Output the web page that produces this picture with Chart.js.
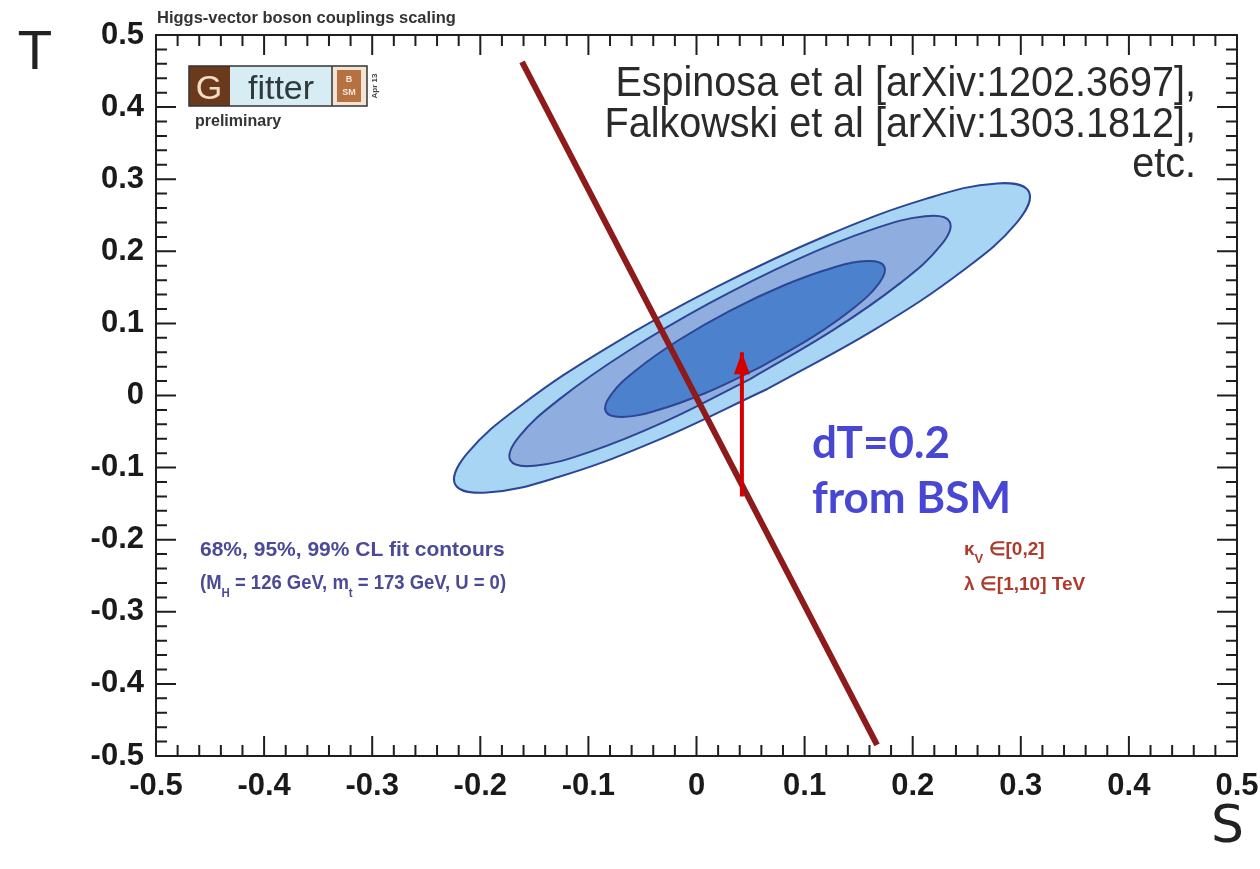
<!DOCTYPE html>
<html>
<head>
<meta charset="utf-8">
<title>Higgs-vector boson couplings scaling</title>
<script src="https://cdn.jsdelivr.net/npm/chart.js@4.4.1/dist/chart.umd.min.js"></script>
<style>
  html, body { margin: 0; padding: 0; background: #fff; }
  #wrap { position: relative; width: 1260px; height: 869px; }
</style>
</head>
<body>
<div id="wrap"><canvas id="stChart"></canvas></div>
<script>
// axis tick labels
const sTickLabels = ['-0.5', '-0.4', '-0.3', '-0.2', '-0.1', '0', '0.1', '0.2', '0.3', '0.4', '0.5'];
const tTickLabels = ['-0.5', '-0.4', '-0.3', '-0.2', '-0.1', '0', '0.1', '0.2', '0.3', '0.4', '0.5'];

// 99% CL contour (S, T), traced from the lower side round the tips
const cl99S = [0.0660, -0.0374, -0.1286, -0.1939, -0.2233, -0.2123, -0.1624, -0.0816, 0.0182, 0.1216, 0.2128, 0.2781, 0.3075, 0.2965, 0.2466, 0.1658, 0.0660];
const cl99T = [0.0094, -0.0630, -0.1134, -0.1346, -0.1230, -0.0806, -0.0138, 0.0672, 0.1502, 0.2226, 0.2730, 0.2942, 0.2826, 0.2402, 0.1734, 0.0924, 0.0094];

// 95% CL contour
const cl95S = [0.0500, -0.0293, -0.0993, -0.1495, -0.1722, -0.1641, -0.1261, -0.0643, 0.0120, 0.0913, 0.1613, 0.2115, 0.2342, 0.2261, 0.1881, 0.1263, 0.0500];
const cl95T = [0.0232, -0.0363, -0.0785, -0.0974, -0.0899, -0.0572, -0.0043, 0.0607, 0.1280, 0.1875, 0.2297, 0.2486, 0.2411, 0.2084, 0.1555, 0.0906, 0.0232];

// 68% CL contour
const cl68S = [0.0586, 0.0082, -0.0365, -0.0689, -0.0839, -0.0793, -0.0559, -0.0170, 0.0312, 0.0816, 0.1263, 0.1587, 0.1737, 0.1691, 0.1457, 0.1068, 0.0586];
const cl68T = [0.0390, 0.0035, -0.0205, -0.0297, -0.0222, 0.0005, 0.0351, 0.0763, 0.1178, 0.1533, 0.1773, 0.1865, 0.1790, 0.1563, 0.1217, 0.0805, 0.0390];

// kappa_V / lambda scan line
const scanS = [-0.1614, 0.1670];
const scanT = [0.4626, -0.4847];

// dT = 0.2 shift
const shiftS = [0.042, 0.042];
const shiftT = [-0.14, 0.06];

const toPoints = (xs, ys) => xs.map((x, i) => ({ x: x, y: ys[i] }));

function contour(label, xs, ys, fillColor, order) {
    return {
        label: label,
        data: toPoints(xs, ys),
        showLine: true,
        tension: 0.4,
        fill: 'shape',
        backgroundColor: fillColor,
        borderColor: '#2c4696',
        borderWidth: 2,
        pointRadius: 0,
        order: order
    };
}

// frame with ROOT-style inward ticks on all four sides
const framePlugin = {
    id: 'frame',
    afterDatasetsDraw(chart) {
        const ctx = chart.ctx;
        const a = chart.chartArea;
        const xs = chart.scales.x, ys = chart.scales.y;
        ctx.save();
        ctx.strokeStyle = '#1e1e1e';
        ctx.lineWidth = 2;
        ctx.strokeRect(a.left, a.top, a.right - a.left, a.bottom - a.top);
        ctx.beginPath();
        for (let i = 0; i <= 50; i++) {
            const v = -0.5 + i * 0.02;
            const len = (i % 5 === 0) ? 20 : 11;
            const px = xs.getPixelForValue(v);
            ctx.moveTo(px, a.bottom); ctx.lineTo(px, a.bottom - len);
            ctx.moveTo(px, a.top); ctx.lineTo(px, a.top + len);
            const py = ys.getPixelForValue(v);
            ctx.moveTo(a.left, py); ctx.lineTo(a.left + len, py);
            ctx.moveTo(a.right, py); ctx.lineTo(a.right - len, py);
        }
        ctx.stroke();

        // arrow head on the dT shift
        const meta = chart.getDatasetMeta(4);
        if (meta && meta.data.length > 1) {
            const tip = meta.data[meta.data.length - 1];
            ctx.fillStyle = '#d40000';
            ctx.beginPath();
            ctx.moveTo(tip.x, tip.y);
            ctx.lineTo(tip.x - 8, tip.y + 22);
            ctx.lineTo(tip.x + 8, tip.y + 22);
            ctx.closePath();
            ctx.fill();
        }
        ctx.restore();
    }
};

// text runs with subscripts, optionally squeezed horizontally
function subText(ctx, parts, x, y, font, subFont, sx) {
    ctx.save();
    ctx.translate(x, y);
    ctx.scale(sx || 1, 1);
    let cx = 0;
    parts.forEach(p => {
        ctx.font = p.sub ? subFont : font;
        ctx.fillText(p.t, cx, p.sub ? 8 : 0);
        cx += ctx.measureText(p.t).width;
    });
    ctx.restore();
}

// labels, logo and notes
const notesPlugin = {
    id: 'notes',
    afterDraw(chart) {
        const ctx = chart.ctx;
        ctx.save();
        ctx.textBaseline = 'alphabetic';

        ctx.fillStyle = '#333';
        ctx.textAlign = 'left';
        ctx.font = 'bold 16.5px "Liberation Sans", Arial, sans-serif';
        ctx.fillText('Higgs-vector boson couplings scaling', 157, 23);

        ctx.fillStyle = '#222';
        ctx.font = '52px "DejaVu Sans", sans-serif';
        ctx.fillText('T', 19, 69);
        ctx.fillText('S', 1211, 842);

        // Gfitter logo
        ctx.fillStyle = '#6b3a1c';
        ctx.fillRect(189, 66, 41, 40);
        ctx.fillStyle = '#d8ecf4';
        ctx.fillRect(230, 66, 102, 40);
        ctx.fillStyle = '#f4e4d6';
        ctx.fillRect(332, 66, 35, 40);
        ctx.fillStyle = '#b5713f';
        ctx.fillRect(337, 70, 24, 32);
        ctx.strokeStyle = '#333';
        ctx.lineWidth = 1.5;
        ctx.strokeRect(189, 66, 178, 40);
        ctx.beginPath();
        ctx.moveTo(332, 66); ctx.lineTo(332, 106);
        ctx.stroke();
        ctx.fillStyle = '#f3dcc6';
        ctx.font = '34px "Liberation Sans", Arial, sans-serif';
        ctx.textAlign = 'center';
        ctx.fillText('G', 209, 99);
        ctx.fillStyle = '#2e3a3e';
        ctx.fillText('fitter', 281, 99);
        ctx.fillStyle = '#f6e8da';
        ctx.font = 'bold 9px "Liberation Sans", Arial, sans-serif';
        ctx.fillText('B', 349, 82);
        ctx.fillText('SM', 349, 95);
        ctx.save();
        ctx.translate(377, 86);
        ctx.rotate(-Math.PI / 2);
        ctx.fillStyle = '#444';
        ctx.font = 'bold 8px "Liberation Sans", Arial, sans-serif';
        ctx.fillText('Apr 13', 0, 0);
        ctx.restore();
        ctx.textAlign = 'left';
        ctx.fillStyle = '#333';
        ctx.font = 'bold 16px "Liberation Sans", Arial, sans-serif';
        ctx.fillText('preliminary', 195, 126);

        // references, set in a condensed cut
        ctx.textAlign = 'right';
        ctx.fillStyle = '#2a2a2a';
        ctx.save();
        ctx.translate(1196, 0);
        ctx.scale(0.92, 1);
        ctx.font = '43px "Liberation Sans", Arial, sans-serif';
        ctx.fillText('Espinosa et al [arXiv:1202.3697],', 0, 96);
        ctx.fillText('Falkowski et al [arXiv:1303.1812],', 0, 137);
        ctx.fillText('etc.', 0, 177);
        ctx.restore();

        // contour legend
        ctx.textAlign = 'left';
        ctx.fillStyle = '#4a4a96';
        const f1 = 'bold 21px "Liberation Sans", Arial, sans-serif';
        const f2 = 'bold 13px "Liberation Sans", Arial, sans-serif';
        ctx.font = f1;
        ctx.fillText('68%, 95%, 99% CL fit contours', 200, 556);
        subText(ctx, [
            { t: '(M' }, { t: 'H', sub: true }, { t: ' = 126 GeV, m' }, { t: 't', sub: true },
            { t: ' = 173 GeV, U = 0)' }
        ], 200, 589, f1, f2, 0.88);

        // scan ranges
        const f3 = 'bold 19px "Liberation Sans", Arial, sans-serif';
        ctx.fillStyle = '#ad3b2c';
        subText(ctx, [{ t: '\u03ba' }, { t: 'V', sub: true }, { t: ' \u2208[0,2]' }], 964, 555, f3, f2);
        ctx.font = f3;
        ctx.fillText('\u03bb \u2208[1,10] TeV', 964, 590);

        // BSM shift note
        ctx.fillStyle = '#4747d4';
        ctx.font = 'bold 44px Lato, sans-serif';
        ctx.fillText('dT=0.2', 812, 458);
        ctx.fillText('from BSM', 812, 513);
        ctx.restore();
    }
};

new Chart(document.getElementById('stChart'), {
    type: 'scatter',
    data: {
        datasets: [
            contour('99% CL', cl99S, cl99T, '#a9d5f4', 5),
            contour('95% CL', cl95S, cl95T, '#8fadde', 4),
            contour('68% CL', cl68S, cl68T, '#4b81cd', 3),
            {
                label: 'scan',
                data: toPoints(scanS, scanT),
                showLine: true,
                borderColor: '#8e1b1b',
                borderWidth: 6,
                borderCapStyle: 'butt',
                pointRadius: 0,
                order: 2
            },
            {
                label: 'dT',
                data: toPoints(shiftS, shiftT),
                showLine: true,
                borderColor: '#d40000',
                borderWidth: 4,
                borderCapStyle: 'butt',
                pointRadius: 0,
                order: 1
            }
        ]
    },
    options: {
        responsive: true,
        maintainAspectRatio: false,
        animation: false,
        layout: { padding: { top: 35, right: 23, left: 0, bottom: 0 } },
        plugins: {
            legend: { display: false },
            tooltip: { enabled: false }
        },
        scales: {
            x: {
                type: 'linear',
                min: -0.5,
                max: 0.5,
                grid: { display: false, drawTicks: false },
                border: { display: false },
                afterFit: (scale) => {
                    scale.height = 113;
                    scale.paddingLeft = 0;
                    scale.paddingRight = 0;
                },
                ticks: {
                    stepSize: 0.1,
                    padding: 12,
                    color: '#1a1a1a',
                    font: { family: '"Liberation Sans", Arial, sans-serif', size: 31, weight: 'bold' },
                    callback: (v) => sTickLabels[Math.round(v * 10) + 5]
                }
            },
            y: {
                type: 'linear',
                min: -0.5,
                max: 0.5,
                grid: { display: false, drawTicks: false },
                border: { display: false },
                afterFit: (scale) => {
                    scale.width = 156;
                    scale.paddingTop = 0;
                    scale.paddingBottom = 0;
                },
                ticks: {
                    stepSize: 0.1,
                    padding: 12,
                    color: '#1a1a1a',
                    font: { family: '"Liberation Sans", Arial, sans-serif', size: 31, weight: 'bold' },
                    callback: (v) => tTickLabels[Math.round(v * 10) + 5]
                }
            }
        }
    },
    plugins: [framePlugin, notesPlugin]
});
</script>
</body>
</html>
